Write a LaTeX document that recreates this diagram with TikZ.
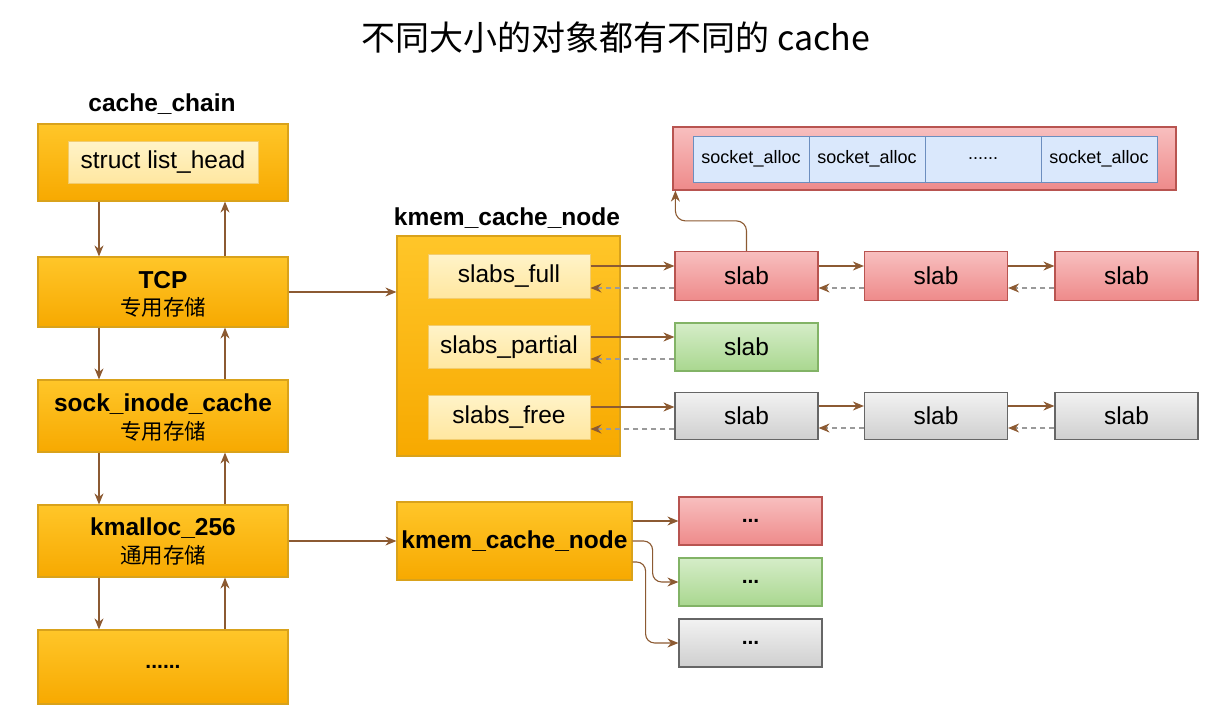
\documentclass[tikz,border=0pt]{standalone}
\usepackage{fontspec}
\setmainfont{Liberation Sans}
\newfontfamily\cjk{Noto Sans CJK SC}
\usetikzlibrary{arrows.meta,calc}
\definecolor{obord}{HTML}{D9A21B}
\definecolor{otop}{HTML}{FFC629}
\definecolor{obot}{HTML}{F7A900}
\definecolor{itop}{HTML}{FFF3C8}
\definecolor{ibot}{HTML}{FFE7A0}
\definecolor{ibord}{HTML}{F2CC6E}
\definecolor{rtop}{HTML}{F8BFBF}
\definecolor{rbot}{HTML}{EE8A8A}
\definecolor{rbord}{HTML}{B85450}
\definecolor{gtop}{HTML}{D5EDC8}
\definecolor{gbot}{HTML}{A9D78F}
\definecolor{gbord}{HTML}{82B366}
\definecolor{ytop}{HTML}{F2F2F2}
\definecolor{ybot}{HTML}{CFCFCF}
\definecolor{ybord}{HTML}{666666}
\definecolor{bfill}{HTML}{DAE8FC}
\definecolor{bbord}{HTML}{6C8EBF}
\definecolor{arrc}{HTML}{8C5A32}
\definecolor{dashc}{HTML}{9A9A9A}
\newcommand\fA{\fontsize{24.5}{28}\selectfont}
\newcommand\fB{\fontsize{21}{24}\selectfont}
\newcommand\fS{\fontsize{18}{21}\selectfont}
\newcommand\fC{\cjk\fontsize{21.5}{24}\selectfont}
\tikzset{
  obox/.style={draw=obord, line width=1.2pt, top color=otop, bottom color=obot, minimum width=250pt, inner sep=0pt, align=center},
  ibox/.style={draw=ibord, line width=1pt, top color=itop, bottom color=ibot, inner sep=0pt, font=\fA},
  rbox/.style={draw=rbord, line width=1.2pt, top color=rtop, bottom color=rbot, minimum width=143pt, inner sep=0pt, font=\fA},
  gbox/.style={draw=gbord, line width=1.2pt, top color=gtop, bottom color=gbot, minimum width=143pt, inner sep=0pt, font=\fA},
  ybox/.style={draw=ybord, line width=1.2pt, top color=ytop, bottom color=ybot, minimum width=143pt, inner sep=0pt, font=\fA},
  cell/.style={draw=bbord, line width=1pt, fill=bfill, minimum width=116pt, minimum height=46pt, inner sep=0pt, font=\fS},
  boldtxt/.style={font=\bfseries\fA, inner sep=1pt},
  cjktxt/.style={font=\fC, inner sep=1pt},
  arr/.style={draw=arrc, line width=1.1pt, -{Stealth[length=11pt,width=9pt,color=arrc]}},
  darr/.style={draw=dashc, line width=1.1pt, dash pattern=on 5pt off 4pt, -{Stealth[length=11pt,width=9pt,color=arrc]}},
}
\begin{document}
\begin{tikzpicture}[x=1pt,y=-1pt]
\useasboundingbox[fill=white] (0,0) rectangle (1219,715);
% title
\node (title) at (616,38) {\cjk\fontsize{34}{38}\selectfont 不同大小的对象都有不同的 cache};
% left column
\node[font=\bfseries\fA] (cclabel) at (162,104) {cache\_chain};
\node[obox, minimum height=77pt] (cc) at (163,162.5) {};
\node[ibox, minimum width=190pt, minimum height=42pt] (lh) at (163,162) {struct list\_head};
\node[obox, minimum height=70pt] (tcp) at (163,292) {};
\node[boldtxt] (tcpa) at (163,280) {TCP};
\node[cjktxt] (tcpb) at (163,307) {专用存储};
\node[obox, minimum height=72pt] (sock) at (163,416) {};
\node[boldtxt] (socka) at (163,404) {sock\_inode\_cache};
\node[cjktxt] (sockb) at (163,431) {专用存储};
\node[obox, minimum height=72pt] (kmal) at (163,541) {};
\node[boldtxt] (kmala) at (163,528) {kmalloc\_256};
\node[cjktxt] (kmalb) at (163,555) {通用存储};
\node[obox, minimum height=74pt] (more) at (163,667) {\bfseries\fB ......};
\coordinate (xd) at (99,0);
\coordinate (xu) at (225,0);
\foreach \a/\b in {cc/tcp, tcp/sock, sock/kmal, kmal/more}{
  \draw[arr] (\a.south -| xd) -- (\b.north -| xd);
  \draw[arr] (\b.north -| xu) -- (\a.south -| xu);
}
% kmem_cache_node (TCP)
\node[font=\bfseries\fA] (kmlabel) at (507,218) {kmem\_cache\_node};
\node[draw=obord, line width=1.2pt, top color=otop, bottom color=obot, minimum width=223pt, minimum height=220pt] (kmem) at (508.5,346) {};
\node[ibox, minimum width=162pt, minimum height=44pt] (sf) at (509,276) {slabs\_full};
\node[ibox, minimum width=162pt, minimum height=43pt] (sp) at (509,347) {slabs\_partial};
\node[ibox, minimum width=162pt, minimum height=44pt] (sfr) at (509,417) {slabs\_free};
\draw[arr] (tcp.east) -- (tcp.east -| kmem.west);
% slab rows
\node[rbox, minimum height=49pt] (r1) at (746.5,276) {slab};
\node[rbox, minimum height=49pt] (r2) at (936,276) {slab};
\node[rbox, minimum height=49pt] (r3) at (1126.5,276) {slab};
\node[gbox, minimum height=48pt] (g1) at (746.5,347) {slab};
\node[ybox, minimum height=47pt] (y1) at (746.5,416) {slab};
\node[ybox, minimum height=47pt] (y2) at (936,416) {slab};
\node[ybox, minimum height=47pt] (y3) at (1126.5,416) {slab};
\foreach \a/\b in {sf/r1, r1/r2, r2/r3, sp/g1, sfr/y1, y1/y2, y2/y3}{
  \draw[arr] ([yshift=10pt]\a.east) -- ([yshift=10pt]\a.east -| \b.west);
  \draw[darr] ([yshift=-12pt]\a.east -| \b.west) -- ([yshift=-12pt]\a.east);
}
% socket_alloc block
\node[draw=rbord, line width=1.2pt, top color=rtop, bottom color=rbot, minimum width=503pt, minimum height=63pt] (sockbox) at (924.5,158.5) {};
\node[cell] (c1) at (751,159) {socket\_alloc};
\node[cell] (c2) at (867,159) {socket\_alloc};
\node[cell] (c3) at (983,159) {......};
\node[cell] (c4) at (1099,159) {socket\_alloc};
\draw[arr, rounded corners=10pt] (r1.north) -- ++(0,-30) -| ([xshift=3pt]sockbox.south west);
% kmalloc kmem_cache_node
\node[draw=obord, line width=1.2pt, top color=otop, bottom color=obot, minimum width=235pt, minimum height=78pt, inner sep=0pt, font=\bfseries\fA] (k2) at (514.5,541) {kmem\_cache\_node};
\draw[arr] (kmal.east) -- (k2.west);
\node[rbox, minimum height=48pt, font=\bfseries\fB] (r4) at (750.5,521) {...};
\node[gbox, minimum height=48pt, font=\bfseries\fB] (g4) at (750.5,582) {...};
\node[ybox, minimum height=48pt, font=\bfseries\fB] (y4) at (750.5,643) {...};
\draw[arr] ([yshift=20pt]k2.east) -- ([yshift=20pt]k2.east -| r4.west);
\draw[arr, rounded corners=9pt] (k2.east) -- ++(20,0) |- (g4.west);
\draw[arr, rounded corners=9pt] ([yshift=-21pt]k2.east) -- ++(13,0) |- (y4.west);
\end{tikzpicture}
\end{document}
